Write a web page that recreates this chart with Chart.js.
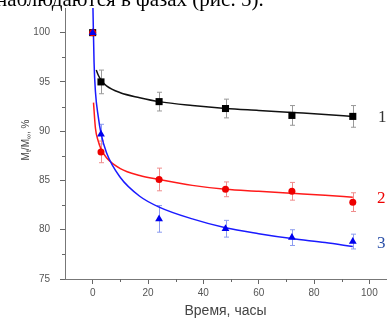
<!DOCTYPE html>
<html lang="ru">
<head>
  <meta charset="UTF-8" />
  <title>Mt/M∞ — время</title>
  <script src="https://cdn.jsdelivr.net/npm/chart.js"></script>
  <style>
    body { margin: 0; background: #fff; }
    .wrap { position: relative; width: 391px; height: 321px; overflow: hidden; }
    .caption {
      position: absolute; left: -4px; top: -13px;
      font: 21px "Liberation Serif", serif; color: #000; white-space: nowrap;
    }
    .num { position: absolute; font: 17px "Liberation Serif", serif; }
  </style>
</head>
<body>
  <div class="wrap">
    <canvas id="chart"></canvas>
    <div class="caption">наблюдаются в фазах (рис. 5).</div>
    <div class="num" style="left:378px; top:107px; color:#333;">1</div>
    <div class="num" style="left:377px; top:188px; color:#e00;">2</div>
    <div class="num" style="left:377px; top:233px; color:#2a4fa8;">3</div>
  </div>

  <script>
    // точки эксперимента (часы)
    const timeHours = [0, 3, 24, 48, 72, 94];
    const series1 = [100, 95.0, 93.0, 92.3, 91.6, 91.5];
    const series2 = [100, 87.9, 85.1, 84.1, 83.9, 82.8];
    const series3 = [100, 89.7, 81.1, 80.1, 79.2, 78.8];
    const err1 = [0, 1.2, 0.95, 0.95, 1.0, 1.1];
    const err2 = [0, 1.1, 1.15, 0.75, 0.9, 0.95];
    const err3 = [0, 1.0, 1.35, 0.85, 0.8, 0.75];

    // аппроксимирующие кривые
    const fitTime1 = [1.3, 2, 3, 5, 10, 17, 24, 36, 48, 60, 72, 84, 94];
    const fit1 = [96.2, 95.7, 95.2, 94.6, 93.9, 93.4, 93.0, 92.6, 92.3, 92.1, 91.9, 91.7, 91.5];
    const fitTime2 = [0.3, 1, 2, 3, 5, 10, 17, 24, 36, 48, 60, 72, 84, 94];
    const fit2 = [92.9, 90.3, 89.0, 88.2, 87.3, 86.2, 85.5, 85.1, 84.5, 84.1, 83.9, 83.7, 83.5, 83.3];
    const fitTime3 = [0.1, 0.5, 1, 2, 3, 5, 10, 17, 24, 36, 48, 60, 72, 84, 94];
    const fit3 = [102.5, 97.0, 94.0, 91.5, 89.8, 87.8, 85.3, 83.4, 82.3, 81.1, 80.2, 79.6, 79.1, 78.7, 78.3];

    const xTicks = [0, 10, 20, 30, 40, 50, 60, 70, 80, 90, 100];
    const xTickLabels = [0, 20, 40, 60, 80, 100];
    const yTicks = [75, 77.5, 80, 82.5, 85, 87.5, 90, 92.5, 95, 97.5, 100];
    const yTickLabels = [75, 80, 85, 90, 95, 100];

    const toXY = (xs, ys) => xs.map((x, i) => ({ x: x, y: ys[i] }));

    function fitLine(xs, ys, color, order) {
      return {
        data: toXY(xs, ys), showLine: true, pointRadius: 0,
        borderColor: color, borderWidth: 1.5,
        cubicInterpolationMode: 'monotone', order: order
      };
    }

    function markers(ys, errs, color, errColor, style, radius, order) {
      return {
        data: toXY(timeHours, ys), showLine: false,
        pointStyle: style, pointRadius: radius,
        backgroundColor: color, borderColor: color, borderWidth: 0,
        errors: errs, errColor: errColor, order: order
      };
    }

    // усы погрешностей и короткие промежуточные риски
    const extras = {
      id: 'extras',
      beforeDatasetsDraw(chart) {
        const ctx = chart.ctx;
        const xs = chart.scales.x, ys = chart.scales.y;
        chart.data.datasets.forEach(ds => {
          if (!ds.errors) return;
          ctx.save();
          ctx.strokeStyle = ds.errColor;
          ctx.lineWidth = 1;
          ds.data.forEach((p, i) => {
            const e = ds.errors[i];
            if (!e) return;
            const px = Math.round(xs.getPixelForValue(p.x)) + 0.5;
            const top = ys.getPixelForValue(p.y + e);
            const bot = ys.getPixelForValue(p.y - e);
            ctx.beginPath();
            ctx.moveTo(px, top); ctx.lineTo(px, bot);
            ctx.moveTo(px - 2.5, top); ctx.lineTo(px + 2.5, top);
            ctx.moveTo(px - 2.5, bot); ctx.lineTo(px + 2.5, bot);
            ctx.stroke();
          });
          ctx.restore();
        });
      },
      afterDraw(chart) {
        const ctx = chart.ctx;
        const xs = chart.scales.x, ys = chart.scales.y;
        const area = chart.chartArea;
        ctx.save();
        ctx.strokeStyle = '#666';
        ctx.lineWidth = 1;
        ctx.beginPath();
        xTicks.forEach(v => {
          if (xTickLabels.includes(v)) return;
          const px = Math.round(xs.getPixelForValue(v)) + 0.5;
          ctx.moveTo(px, area.bottom); ctx.lineTo(px, area.bottom + 3);
        });
        yTicks.forEach(v => {
          if (yTickLabels.includes(v)) return;
          const py = Math.round(ys.getPixelForValue(v)) + 0.5;
          ctx.moveTo(area.left, py); ctx.lineTo(area.left - 3, py);
        });
        ctx.stroke();

        // подпись оси Y с индексами
        ctx.translate(25, 140);
        ctx.rotate(-Math.PI / 2);
        ctx.fillStyle = '#444';
        const parts = [['M', 10, 0], ['t', 7, 2], ['/M', 10, 0], ['∞', 7, 2], [', %', 10, 0]];
        let total = 0;
        parts.forEach(p => { ctx.font = p[1] + 'px Arial'; total += ctx.measureText(p[0]).width; });
        let cx = -total / 2;
        parts.forEach(p => {
          ctx.font = p[1] + 'px Arial';
          ctx.fillText(p[0], cx, 4 + p[2]);
          cx += ctx.measureText(p[0]).width;
        });
        ctx.restore();
      }
    };

    const tickColor = '#555';

    new Chart(document.getElementById('chart'), {
      type: 'scatter',
      data: {
        datasets: [
          markers(series3, err3, '#0000ee', '#8c9cf0', 'triangle', 4.5, 1),
          markers(series2, err2, '#ee0000', '#f08c8c', 'circle', 3.5, 2),
          markers(series1, err1, '#000000', '#999999', 'rect', 5, 3),
          fitLine(fitTime3, fit3, '#1a1aff', 4),
          fitLine(fitTime2, fit2, '#ff1a1a', 5),
          fitLine(fitTime1, fit1, '#111111', 6)
        ]
      },
      options: {
        responsive: true,
        maintainAspectRatio: false,
        animation: false,
        layout: { padding: { top: 8, right: 3, left: 0, bottom: 0 } },
        plugins: { legend: { display: false }, tooltip: { enabled: false } },
        scales: {
          x: {
            type: 'linear', min: -10, max: 106,
            afterBuildTicks: s => { s.ticks = xTickLabels.map(v => ({ value: v })); },
            afterFit: s => { s.height = 42; s.paddingLeft = 0; s.paddingRight = 0; },
            border: { color: '#777', width: 1 },
            grid: { drawOnChartArea: false, tickLength: 5, color: '#666' },
            ticks: {
              padding: 3, color: tickColor, font: { size: 10, family: 'Arial' },
              maxRotation: 0, autoSkip: false
            },
            title: {
              display: true, text: 'Время, часы', color: '#444',
              font: { size: 14, family: 'Arial' }, padding: { top: 0, bottom: 1 }
            }
          },
          y: {
            min: 75, max: 102.5,
            afterBuildTicks: s => { s.ticks = yTickLabels.map(v => ({ value: v })); },
            afterFit: s => { s.width = 65; s.paddingTop = 0; s.paddingBottom = 0; },
            border: { color: '#777', width: 1 },
            grid: { drawOnChartArea: false, tickLength: 5, color: '#666' },
            ticks: {
              padding: 10, color: tickColor, font: { size: 10, family: 'Arial' },
              autoSkip: false
            }
          }
        }
      },
      plugins: [extras]
    });
  </script>
</body>
</html>
